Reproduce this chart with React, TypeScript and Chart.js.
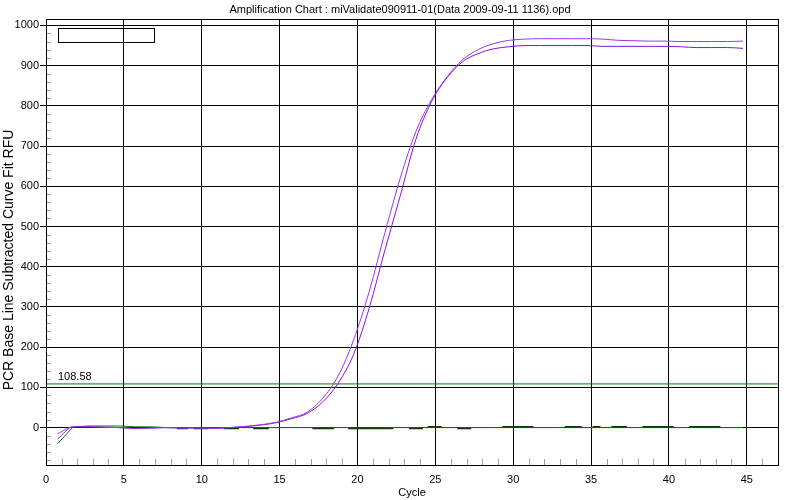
import { useEffect, useRef } from "react";
import { Chart, registerables } from "chart.js";

Chart.register(...registerables);

const TITLE = "Amplification Chart : miValidate090911-01(Data 2009-09-11 1136).opd";
const X_TITLE = "Cycle";
const Y_TITLE = "PCR Base Line Subtracted Curve Fit RFU";
const THRESHOLD_LABEL = "108.58";

const cycles = [
  0.75, 1.75, 2.75, 3.75, 4.75, 5.75, 6.75, 7.75, 8.75, 9.75,
  10.75, 11.75, 12.75, 13.75, 14.75, 15.75, 16.75, 17.75, 18.75, 19.75,
  20.75, 21.75, 22.75, 23.75, 24.75, 25.75, 26.75, 27.75, 28.75, 29.75,
  30.75, 31.75, 32.75, 33.75, 34.75, 35.75, 36.75, 37.75, 38.75, 39.75,
  40.75, 41.75, 42.75, 43.75, 44.75,
];

const wellA = [
  -15, 2, 2, 1, 0, -2, -1, 0, -1, -1,
  -2, 0, 3, 7, 13, 24, 38, 72, 128, 218,
  338, 483, 621, 736, 815, 872, 915, 940, 955, 963,
  966, 967, 967, 967, 967, 966, 963, 962, 961, 961,
  960, 960, 960, 960, 961,
];

const wellB = [
  -28, 2, 2, 1, 0, -2, -1, 0, -1, -1,
  -2, 0, 2, 6, 12, 22, 35, 63, 110, 182,
  297, 440, 577, 717, 810, 870, 910, 930, 942, 947,
  950, 950, 950, 950, 950, 948, 948, 948, 948, 948,
  947, 945, 945, 945, 943,
];

const ntcGreen = [
  -40, 2, 4, 4, 4, 2, 2, 0, 0, 0,
  0, 0, 0, 0, 0, 0, 0, 0, 0, 0,
  0, 0, 0, 0, 0, 0, 0, 0, 0, 0,
  0, 0, 0, 0, 0, 0, 0, 0, 0, 0,
  0, 0, 0, 0, 0,
];

// short dark segments of the negative-control trace near zero
const darkFrom = [8.4, 9.5, 11.4, 13.3, 17.1, 19.4, 23.3, 24.5, 26.4, 29.3, 33.3, 35.1, 36.3, 38.3, 41.3];
const darkTo = [9.1, 10.4, 12.4, 14.3, 18.5, 22.3, 24.2, 25.4, 27.3, 31.3, 34.4, 35.6, 37.3, 40.3, 43.3];
const darkLevel = [-2, -2, -2, -2, -2, -2, -2, 2, -2, 2, 2, 2, 2, 2, 2];

const threshold = 108.58;
const xTicks = [0, 5, 10, 15, 20, 25, 30, 35, 40, 45];
const yTicks = [0, 100, 200, 300, 400, 500, 600, 700, 800, 900, 1000];
const X_MIN = 0;
const X_MAX = 47;
const Y_MIN = -93;
const Y_MAX = 1016;

const FONT = "'Liberation Sans', Arial, sans-serif";

export default function App() {
  const ref = useRef<HTMLCanvasElement | null>(null);

  useEffect(() => {
    const canvas = ref.current;
    if (!canvas) return;

    const xy = (ys: number[]) => cycles.map((c, i) => ({ x: c, y: ys[i] }));
    const darkPts: { x: number; y: number | null }[] = [];
    darkFrom.forEach((f, i) => {
      darkPts.push({ x: f, y: darkLevel[i] });
      darkPts.push({ x: darkTo[i], y: darkLevel[i] });
      darkPts.push({ x: darkTo[i], y: null });
    });

    const deco = {
      id: "deco",
      beforeDatasetsDraw(chart: any) {
        const { ctx, chartArea, scales } = chart;
        const xs = scales.x;
        const ys = scales.y;
        ctx.save();
        ctx.strokeStyle = "#a0a0a0";
        ctx.lineWidth = 1;
        ctx.beginPath();
        for (let v = -80; v <= 1000; v += 20) {
          if (v % 100 === 0) continue;
          const py = Math.round(ys.getPixelForValue(v)) + 0.5;
          ctx.moveTo(chartArea.left, py);
          ctx.lineTo(chartArea.left + 5, py);
        }
        for (let c = 1; c <= 46; c++) {
          if (c % 5 === 0) continue;
          const px = Math.round(xs.getPixelForValue(c)) + 0.5;
          ctx.moveTo(px, chartArea.bottom);
          ctx.lineTo(px, chartArea.bottom - 6);
        }
        ctx.stroke();
        ctx.restore();
      },
      afterDatasetsDraw(chart: any) {
        const { ctx, chartArea, scales } = chart;
        const ys = scales.y;
        ctx.save();
        ctx.strokeStyle = "#000";
        ctx.lineWidth = 1;
        ctx.strokeRect(
          chartArea.left + 0.5,
          chartArea.top + 0.5,
          chartArea.right - chartArea.left,
          chartArea.bottom - chartArea.top
        );
        // empty legend box
        ctx.strokeRect(58.5, 28.5, 96, 14);

        ctx.fillStyle = "#000";
        ctx.font = `11px ${FONT}`;
        ctx.textAlign = "left";
        ctx.textBaseline = "alphabetic";
        ctx.fillText(THRESHOLD_LABEL, chartArea.left + 12, ys.getPixelForValue(threshold) - 4);

        ctx.textAlign = "center";
        ctx.textBaseline = "middle";
        ctx.fillText(TITLE, 400, 10);
        ctx.fillText(X_TITLE, (chartArea.left + chartArea.right) / 2, 493);

        ctx.font = `14px ${FONT}`;
        ctx.translate(9, 260);
        ctx.rotate(-Math.PI / 2);
        ctx.fillText(Y_TITLE, 0, 0);
        ctx.restore();
      },
    };

    const chart = new Chart(canvas, {
      type: "line",
      data: {
        datasets: [
          {
            label: "A",
            data: xy(wellA),
            borderColor: "#9a35e8",
            borderWidth: 1,
            pointRadius: 0,
            cubicInterpolationMode: "monotone",
          },
          {
            label: "B",
            data: xy(wellB),
            borderColor: "#8414d8",
            borderWidth: 1,
            pointRadius: 0,
            cubicInterpolationMode: "monotone",
          },
          {
            label: "NTC dark",
            data: darkPts,
            borderColor: "#0b3b0b",
            borderWidth: 1.5,
            pointRadius: 0,
            spanGaps: false,
          },
          {
            label: "NTC",
            data: xy(ntcGreen),
            borderColor: "#008000",
            borderWidth: 1,
            pointRadius: 0,
          },
          {
            label: "Threshold",
            data: [
              { x: X_MIN, y: threshold },
              { x: X_MAX, y: threshold },
            ],
            borderColor: "#008000",
            borderWidth: 1,
            pointRadius: 0,
          },
        ],
      } as any,
      plugins: [deco],
      options: {
        animation: false,
        responsive: false,
        maintainAspectRatio: false,
        layout: { padding: { top: 19, right: 22, left: 0, bottom: 0 } },
        plugins: {
          legend: { display: false },
          tooltip: { enabled: false },
          title: { display: false },
        },
        scales: {
          x: {
            type: "linear",
            min: X_MIN,
            max: X_MAX,
            afterFit: (s: any) => {
              s.height = 35;
            },
            afterBuildTicks: (s: any) => {
              s.ticks = xTicks.map((v) => ({ value: v }));
            },
            grid: { color: "#000", lineWidth: 1, drawTicks: false },
            border: { display: false },
            ticks: {
              color: "#000",
              font: { family: FONT, size: 11 },
              padding: 8,
              maxRotation: 0,
              autoSkip: false,
              callback: (v: any) => String(v),
            },
          },
          y: {
            type: "linear",
            min: Y_MIN,
            max: Y_MAX,
            afterFit: (s: any) => {
              s.width = 46;
            },
            afterBuildTicks: (s: any) => {
              s.ticks = yTicks.map((v) => ({ value: v }));
            },
            grid: { color: "#000", lineWidth: 1, drawTicks: true, tickLength: 6 },
            border: { display: false },
            ticks: {
              color: "#000",
              font: { family: FONT, size: 11 },
              padding: 1,
              autoSkip: false,
              callback: (v: any) => String(v),
            },
          },
        },
      } as any,
    });

    return () => chart.destroy();
  }, []);

  return (
    <div style={{ position: "absolute", left: 0, top: 0, width: 800, height: 500, background: "#fff" }}>
      <canvas ref={ref} width={800} height={500} style={{ width: 800, height: 500 }} />
    </div>
  );
}
